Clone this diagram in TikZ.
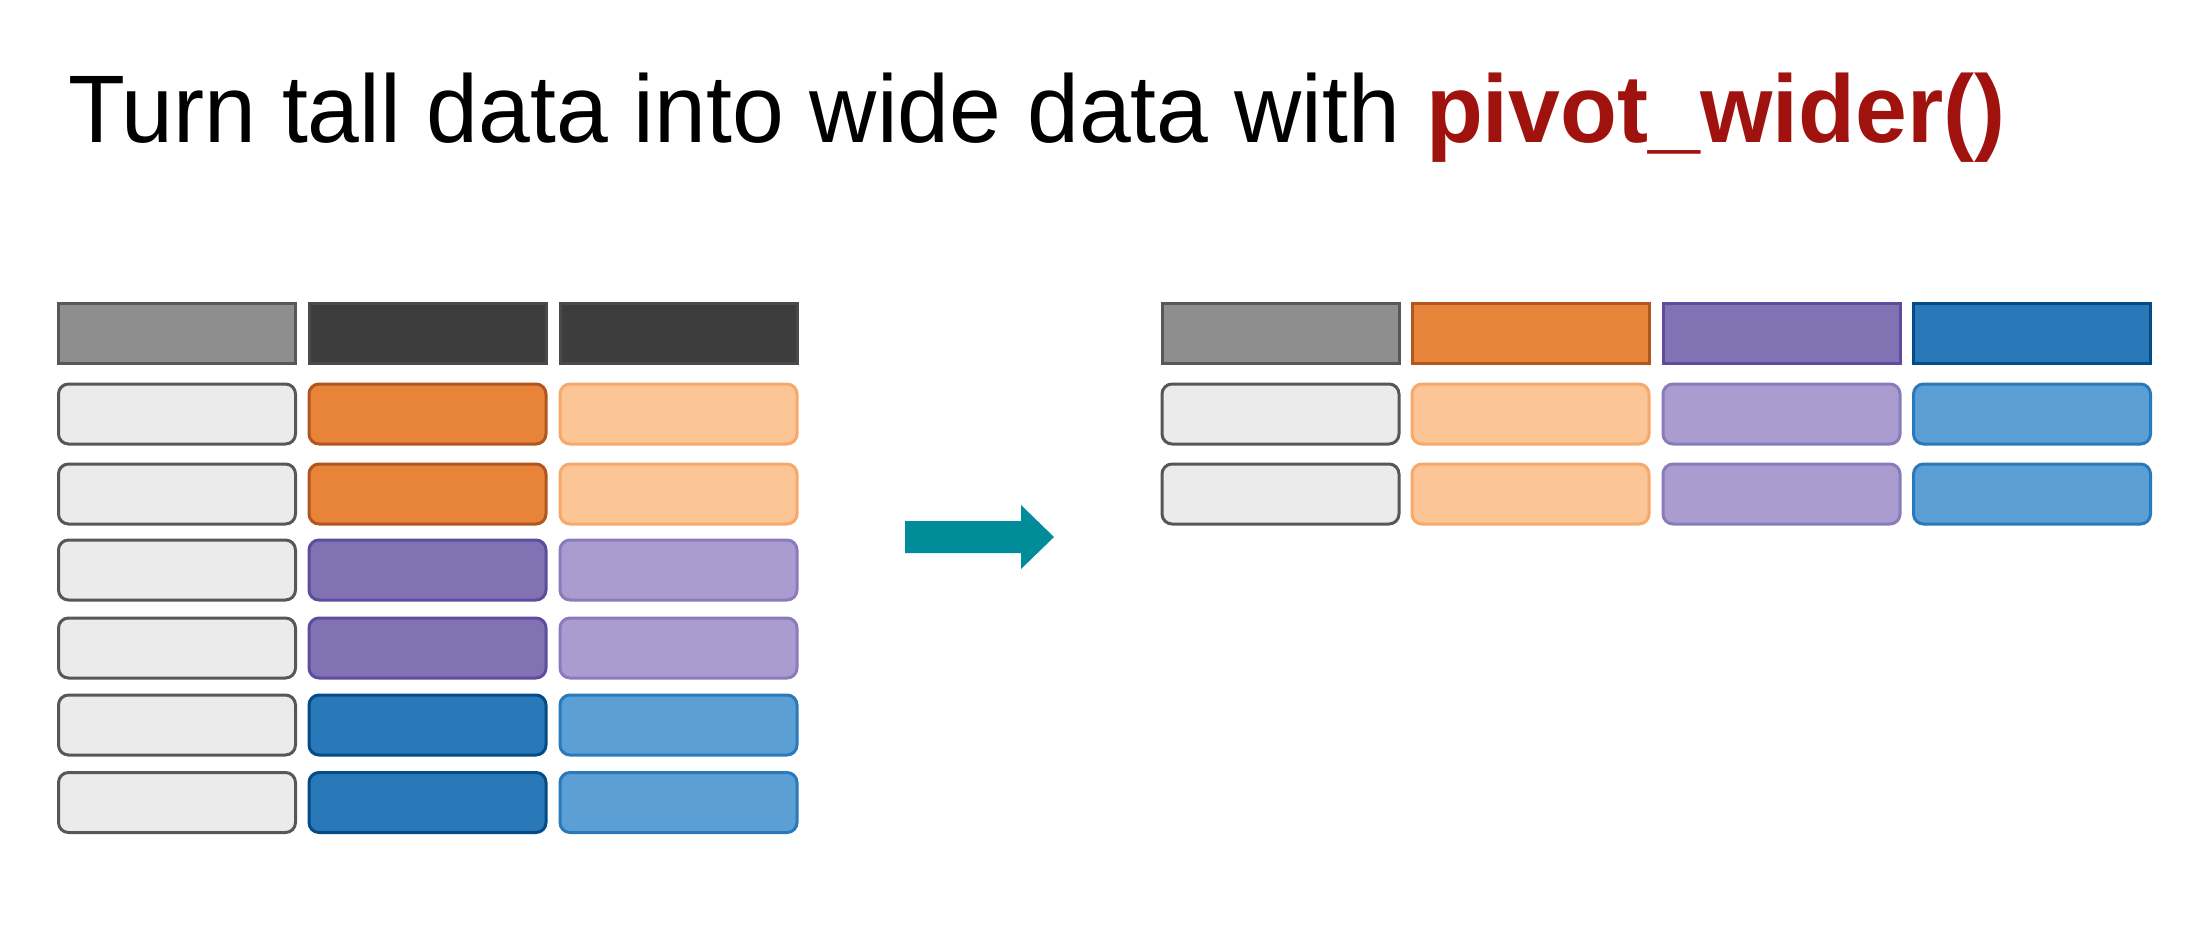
\documentclass[tikz,border=0pt]{standalone}
\usepackage{fontspec}
\setmainfont{Liberation Sans}
\begin{document}
\begin{tikzpicture}[x=1pt,y=-1pt,
  cell/.style={rectangle,inner sep=0pt,minimum width=237pt,minimum height=60pt,line width=3pt,rounded corners=10pt},
  head/.style={cell,rounded corners=0pt},
  gr/.style={fill=cGrey,draw=cGreyB},
  dk/.style={fill=cDark,draw=cDarkB},
  lg/.style={fill=cLight,draw=cGreyB},
  or/.style={fill=cOr,draw=cOrB},
  lo/.style={fill=cLo,draw=cLoB},
  pu/.style={fill=cPu,draw=cPuB},
  lp/.style={fill=cLp,draw=cLpB},
  bl/.style={fill=cBl,draw=cBlB},
  lb/.style={fill=cLb,draw=cLbB}]
\definecolor{cGrey}{HTML}{8E8E8E}
\definecolor{cGreyB}{HTML}{575757}
\definecolor{cDark}{HTML}{3D3D3D}
\definecolor{cDarkB}{HTML}{4A4A4A}
\definecolor{cLight}{HTML}{EBEBEB}
\definecolor{cOr}{HTML}{E8833A}
\definecolor{cOrB}{HTML}{B0561E}
\definecolor{cLo}{HTML}{FBC595}
\definecolor{cLoB}{HTML}{F8A86A}
\definecolor{cPu}{HTML}{8172B4}
\definecolor{cPuB}{HTML}{5E4C9F}
\definecolor{cLp}{HTML}{AA9CCE}
\definecolor{cLpB}{HTML}{8A7BBD}
\definecolor{cBl}{HTML}{2979B9}
\definecolor{cBlB}{HTML}{044C88}
\definecolor{cLb}{HTML}{5C9FD4}
\definecolor{cLbB}{HTML}{2A7ABB}
\definecolor{cTeal}{HTML}{008C99}
\definecolor{cRed}{HTML}{A0120E}
\useasboundingbox (0,0) rectangle (2208,948);
\fill[white] (0,0) rectangle (2208,948);
% title
\node[anchor=base west,inner sep=0pt,font=\fontsize{96}{114}\selectfont] (title) at (68,142.5)
  {\scalebox{0.97}[1]{Turn tall data into wide data with \textcolor{cRed}{\bfseries pivot\_wider()}}};
% left table
\node[head,gr] (lh1) at (177,333.5) {};
\node[head,dk] (lh2) at (427.5,333.5) {};
\node[head,dk] (lh3) at (678.5,333.5) {};
\foreach \i/\y/\sa/\sb in {1/414/or/lo,2/494/or/lo,3/570/pu/lp,4/648/pu/lp,5/725/bl/lb,6/802.5/bl/lb}{
  \node[cell,lg] (l\i a) at (177,\y) {};
  \node[cell,\sa] (l\i b) at (427.5,\y) {};
  \node[cell,\sb] (l\i c) at (678.5,\y) {};
}
% arrow
\fill[cTeal] (905,521) -- (1021,521) -- (1021,505) -- (1054,537) -- (1021,569) -- (1021,553) -- (905,553) -- cycle;
% right table
\node[head,gr] (rh1) at (1280.5,333.5) {};
\node[head,or] (rh2) at (1530.5,333.5) {};
\node[head,pu] (rh3) at (1781.5,333.5) {};
\node[head,bl] (rh4) at (2032,333.5) {};
\foreach \i/\y in {1/414,2/494}{
  \node[cell,lg] (r\i a) at (1280.5,\y) {};
  \node[cell,lo] (r\i b) at (1530.5,\y) {};
  \node[cell,lp] (r\i c) at (1781.5,\y) {};
  \node[cell,lb] (r\i d) at (2032,\y) {};
}
\end{tikzpicture}
\end{document}
